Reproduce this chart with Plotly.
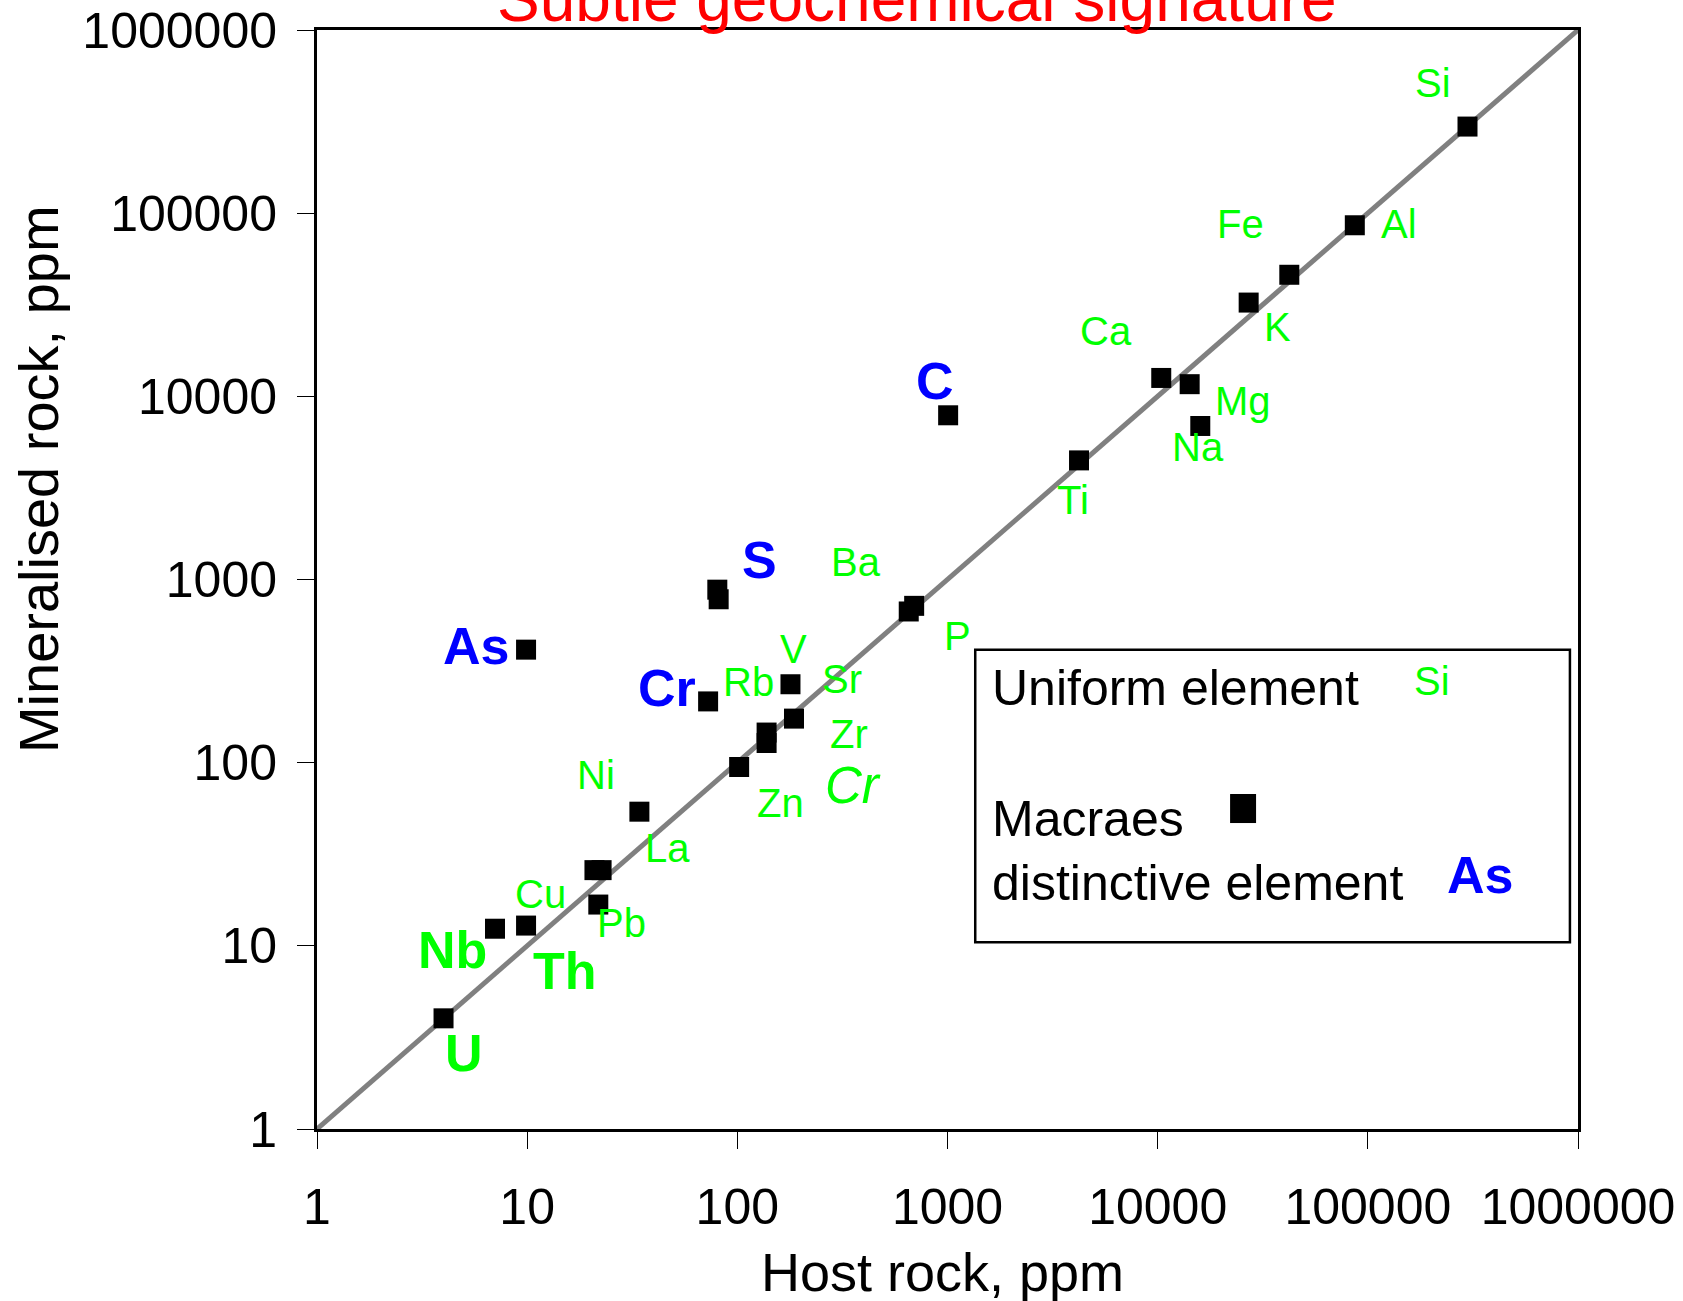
import numpy as np
import plotly.graph_objects as go

# ---------------- data ----------------
elements = ["Si", "Al", "Fe", "K", "Ca", "Mg", "Na", "Ti", "C", "P", "Ba", "S", "S",
            "As", "Cr", "V", "Sr", "Rb", "Zr", "Zn", "Ni", "La", "Th", "Pb", "Cu", "Nb", "U"]
host_ppm = [298000, 86700, 42300, 27100, 10400, 14200, 15950, 4225, 1007, 654, 694, 80.3, 81.5,
            9.88, 72.6, 179, 186, 137.8, 137.8, 102, 34.2, 20.9, 22.6, 21.8, 9.88, 7.03, 4.0]
mineralised_ppm = [297000, 85900, 46100, 32500, 12600, 11650, 6890, 4470, 7880, 669, 718, 880, 780,
                   414, 216, 268, 174, 146, 128, 94.7, 54.0, 25.9, 25.9, 16.8, 12.9, 12.4, 4.02]

# 1:1 reference line end points
line_ppm = [1, 1000000]

tick_vals = [1, 10, 100, 1000, 10000, 100000, 1000000]
tick_text = ["1", "10", "100", "1000", "10000", "100000", "1000000"]

# element labels (text, kind)
label_text = ["Si", "Fe", "Al", "Ca", "K", "C", "Mg", "Na", "Ti", "S", "Ba", "P", "As", "V",
              "Cr", "Rb", "Sr", "Zr", "Ni", "Cr", "Zn", "La", "Cu", "Pb", "Nb", "Th", "U"]
label_kind = ["u", "u", "u", "u", "u", "d", "u", "u", "u", "d", "u", "u", "d", "u",
              "d", "u", "u", "u", "u", "i", "u", "u", "u", "u", "b", "b", "b"]
# label anchor positions (log10 ppm)
label_pos_x = [5.311, 4.392, 5.147, 3.753, 4.570, 2.941, 4.407, 4.192, 3.595, 2.104, 2.563, 3.049, 0.756, 2.267,
               1.665, 2.053, 2.497, 2.533, 1.328, 2.548, 2.206, 1.670, 1.062, 1.450, 0.643, 1.180, 0.700]
label_pos_y = [5.713, 4.939, 4.939, 4.359, 4.377, 4.084, 3.973, 3.721, 3.434, 3.105, 3.094, 2.689, 2.637, 2.619,
               2.408, 2.443, 2.455, 2.156, 1.934, 1.875, 1.781, 1.535, 1.283, 1.125, 0.979, 0.861, 0.416]

FONT = "Liberation Sans, Arial, sans-serif"
GREEN = "#00FF00"
BLUE = "#0000FF"

fig = go.Figure()

fig.add_trace(go.Scatter(
    x=line_ppm, y=line_ppm, mode="lines",
    line=dict(color="#808080", width=5), hoverinfo="skip", showlegend=False))

fig.add_trace(go.Scatter(
    x=host_ppm, y=mineralised_ppm, mode="markers", text=elements,
    marker=dict(symbol="square", size=20, color="black", line=dict(width=0)),
    showlegend=False))

styles = {
    "u": dict(color=GREEN, size=40, weight="normal", style="normal"),
    "d": dict(color=BLUE, size=52, weight="bold", style="normal"),
    "b": dict(color=GREEN, size=52, weight="bold", style="normal"),
    "i": dict(color=GREEN, size=51, weight="normal", style="italic"),
}

annotations = []
for t, k, lx, ly in zip(label_text, label_kind, label_pos_x, label_pos_y):
    s = styles[k]
    annotations.append(dict(
        x=lx, y=ly, xref="x", yref="y", text=t, showarrow=False,
        xanchor="center", yanchor="middle",
        font=dict(family=FONT, color=s["color"], size=s["size"], weight=s["weight"], style=s["style"])))

# title
annotations.append(dict(x=0.4757, y=1.028, xref="paper", yref="paper",
                        text="Subtle geochemical signature", showarrow=False,
                        xanchor="center", yanchor="middle",
                        font=dict(family=FONT, size=64, color="red")))
# axis titles
annotations.append(dict(x=0.496, y=-0.130, xref="paper", yref="paper",
                        text="Host rock, ppm", showarrow=False,
                        xanchor="center", yanchor="middle",
                        font=dict(family=FONT, size=54, color="black")))
annotations.append(dict(x=-0.2213, y=0.5913, xref="paper", yref="paper",
                        text="Mineralised rock, ppm", showarrow=False, textangle=-90,
                        xanchor="center", yanchor="middle",
                        font=dict(family=FONT, size=56, color="black")))

# legend box contents
annotations += [
    dict(x=0.5335, y=0.4013, xref="paper", yref="paper", text="Uniform element", showarrow=False,
         xanchor="left", yanchor="middle", font=dict(family=FONT, size=50, color="black")),
    dict(x=0.8844, y=0.4072, xref="paper", yref="paper", text="Si", showarrow=False,
         xanchor="center", yanchor="middle", font=dict(family=FONT, size=40, color=GREEN)),
    dict(x=0.5335, y=0.2821, xref="paper", yref="paper", text="Macraes", showarrow=False,
         xanchor="left", yanchor="middle", font=dict(family=FONT, size=50, color="black")),
    dict(x=0.5335, y=0.2236, xref="paper", yref="paper", text="distinctive element", showarrow=False,
         xanchor="left", yanchor="middle", font=dict(family=FONT, size=50, color="black")),
    dict(x=0.9223, y=0.2314, xref="paper", yref="paper", text="As", showarrow=False,
         xanchor="center", yanchor="middle",
         font=dict(family=FONT, size=52, color=BLUE, weight="bold")),
]

shapes = [
    dict(type="rect", xref="paper", yref="paper", x0=0.522, x1=0.9936, y0=0.170, y1=0.436,
         line=dict(color="black", width=2.5), fillcolor="white", layer="below"),
    dict(type="rect", xref="paper", yref="paper", x0=0.7241, x1=0.7447, y0=0.2784, y1=0.3048,
         line=dict(width=0), fillcolor="black", layer="above"),
]

axis_common = dict(
    type="log", range=[0, 6], tickvals=tick_vals, ticktext=tick_text,
    showgrid=False, zeroline=False, showline=True, linecolor="black", linewidth=3,
    mirror=True, ticks="outside", ticklen=17, tickwidth=1, tickcolor="black",
    tickfont=dict(family=FONT, size=50, color="black"), automargin=False,
)

fig.update_layout(
    width=1683, height=1301,
    margin=dict(l=317, r=105, t=30, b=172, autoexpand=False),
    paper_bgcolor="white", plot_bgcolor="white",
    xaxis=dict(**axis_common, ticklabelstandoff=15),
    yaxis=dict(**axis_common, ticklabelstandoff=10),
    annotations=annotations, shapes=shapes,
    showlegend=False,
)

fig.write_html("out.html", config={"displayModeBar": False},
               post_script="document.body.style.margin='0';")
